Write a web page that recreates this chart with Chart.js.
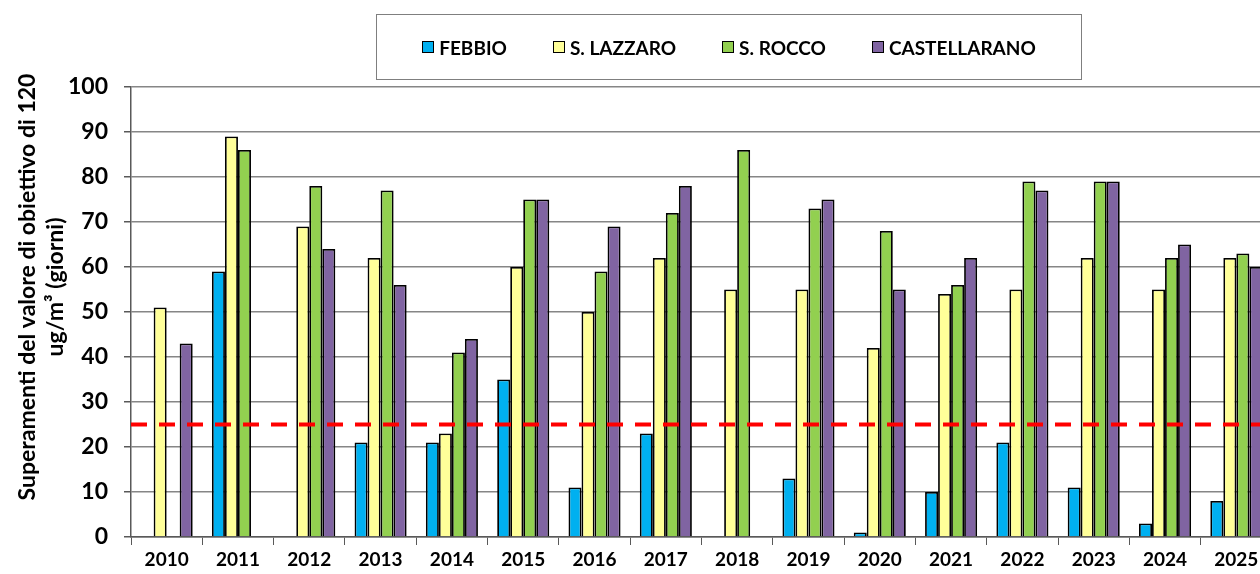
<!DOCTYPE html>
<html>
<head>
<meta charset="utf-8">
<script src="https://cdn.jsdelivr.net/npm/chart.js@4"></script>
<style>
  html, body { margin: 0; padding: 0; background: #fff; overflow: hidden; }
  #wrap { position: relative; width: 1274px; height: 574px; }
  #legenda {
    position: absolute; left: 376px; top: 14px; width: 704px; height: 64px;
    border: 1px solid #7f7f7f; box-sizing: content-box;
    display: flex; align-items: center; justify-content: center;
    font-family: Lato, sans-serif; font-size: 19px; font-weight: 700; color: #000;
  }
  #legenda .voce { display: flex; align-items: center; margin: 0 23px; }
  #legenda .box { width: 10px; height: 10px; border: 1.5px solid #000; margin-right: 5px; }
</style>
</head>
<body>
<div id="wrap">
  <div id="legenda"></div>
  <canvas id="grafico" width="1274" height="574"></canvas>
</div>
<script>
const anni = ['2010', '2011', '2012', '2013', '2014', '2015', '2016', '2017',
              '2018', '2019', '2020', '2021', '2022', '2023', '2024', '2025']

// giorni di superamento per stazione (null = dato assente)
const febbio       = [null, 59, null, 21, 21, 35, 11, 23, null, 13, 1, 10, 21, 11, 3, 8]
const sLazzaro     = [51, 89, 69, 62, 23, 60, 50, 62, 55, 55, 42, 54, 55, 62, 55, 62]
const sRocco       = [null, 86, 78, 77, 41, 75, 59, 72, 86, 73, 68, 56, 79, 79, 62, 63]
const castellarano = [43, null, 64, 56, 44, 75, 69, 78, null, 75, 55, 62, 77, 79, 65, 60]

const stazioni = ['FEBBIO', 'S. LAZZARO', 'S. ROCCO', 'CASTELLARANO']
const colori = ['#00B0F0', '#FFFF99', '#92D050', '#8064A2']

const sogliaGiorni = 25   // limite di 25 giorni
const yMin = 0
const yMax = 100

const FONT = 'Lato, sans-serif'

const ctx = document.getElementById('grafico').getContext('2d')

// linea tratteggiata rossa del limite
const lineaSoglia = {
    id: 'lineaSoglia',
    afterDatasetsDraw(chart) {
        const { ctx, chartArea, scales } = chart
        const y = scales.y.getPixelForValue(sogliaGiorni)
        ctx.save()
        ctx.strokeStyle = '#FF0000'
        ctx.lineWidth = 4
        ctx.setLineDash([16, 12])
        ctx.beginPath()
        ctx.moveTo(chartArea.left, y)
        ctx.lineTo(chartArea.right, y)
        ctx.stroke()
        ctx.restore()
    }
}

// titolo asse y su due righe
const titoloY = {
    id: 'titoloY',
    afterDraw(chart) {
        const { ctx } = chart
        ctx.save()
        ctx.translate(0, 287)
        ctx.rotate(-Math.PI / 2)
        ctx.fillStyle = '#000'
        ctx.font = 'bold 23px ' + FONT
        ctx.textAlign = 'center'
        ctx.textBaseline = 'middle'
        ctx.fillText('Superamenti del valore di obiettivo di 120', 0, 28)
        ctx.fillText('ug/m\u00B3 (giorni)', 0, 56)
        ctx.restore()
    }
}

const render = new Chart(ctx, {
    type: 'bar',
    data: {
        labels: anni,
        datasets: [febbio, sLazzaro, sRocco, castellarano].map((serie, i) => ({
            label: stazioni[i],
            data: serie,
            backgroundColor: colori[i],
            borderColor: '#000',
            borderWidth: 1.8,
            categoryPercentage: 0.73,
            barPercentage: 1
        }))
    },
    options: {
        responsive: false,
        animation: false,
        devicePixelRatio: 1,
        layout: { padding: { top: 87, left: 0, right: 2, bottom: 0 } },
        plugins: {
            legend: { display: false },
            tooltip: { enabled: false }
        },
        scales: {
            x: {
                grid: {
                    offset: true,
                    drawOnChartArea: false,
                    tickLength: 8,
                    color: '#595959',
                    lineWidth: 1
                },
                border: { color: '#595959', width: 1.5 },
                ticks: {
                    color: '#000',
                    font: { family: FONT, size: 19, weight: 'bold' },
                    padding: 3,
                    maxRotation: 0,
                    autoSkip: false
                },
                afterFit(scale) { scale.height = 37 }
            },
            y: {
                min: yMin,
                max: yMax,
                ticks: {
                    stepSize: 5,
                    color: '#000',
                    font: { family: FONT, size: 23, weight: 'bold' },
                    padding: 16,
                    callback: (v) => v % 10 === 0 ? v : ''
                },
                grid: {
                    color: (c) => c.tick && c.tick.value % 10 === 0 ? '#868686' : 'rgba(0,0,0,0)',
                    tickColor: '#595959',
                    tickLength: 7,
                    lineWidth: 1.5
                },
                border: { color: '#595959', width: 1.5 },
                afterFit(scale) { scale.width = 131 }
            }
        }
    },
    plugins: [lineaSoglia, titoloY]
})

// legenda html costruita dai dataset
const legenda = document.getElementById('legenda')
render.data.datasets.forEach((ds) => {
    const voce = document.createElement('div')
    voce.className = 'voce'
    const box = document.createElement('span')
    box.className = 'box'
    box.style.background = ds.backgroundColor
    const testo = document.createElement('span')
    testo.textContent = ds.label
    voce.appendChild(box)
    voce.appendChild(testo)
    legenda.appendChild(voce)
})
</script>
</body>
</html>
